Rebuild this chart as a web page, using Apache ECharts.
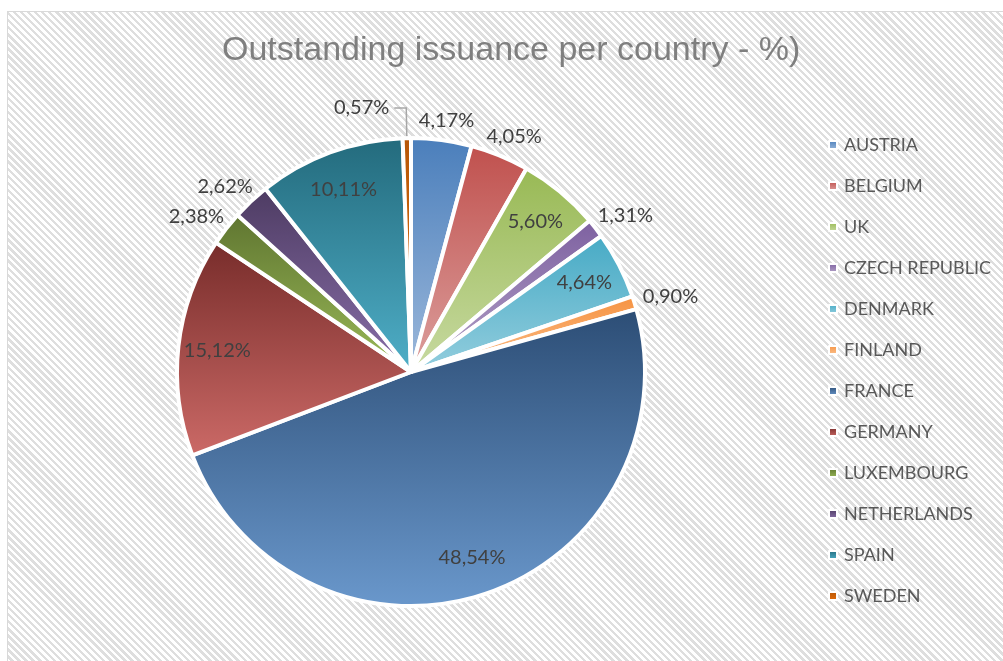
<!DOCTYPE html>
<html>
<head>
<meta charset="utf-8">
<script src="https://cdn.jsdelivr.net/npm/echarts@6/dist/echarts.min.js"></script>
<style>
  html, body { margin: 0; padding: 0; background: #ffffff; width: 1003px; height: 661px; overflow: hidden; }
  #frame {
    position: absolute; left: 7px; top: 11px; width: 996px; height: 650px;
    border-left: 1px solid #d9d9d9; border-top: 1px solid #d9d9d9;
    background: repeating-linear-gradient(45deg, #ffffff 0px, #ffffff 2.6px, #dedede 2.6px, #dedede 5px);
  }
  #chart { position: absolute; left: 0; top: 0; width: 996px; height: 650px; }
</style>
</head>
<body>
<div id="frame"><div id="chart"></div></div>
<script>
// ---- data ----
const countries = ['AUSTRIA', 'BELGIUM', 'UK', 'CZECH REPUBLIC', 'DENMARK', 'FINLAND', 'FRANCE', 'GERMANY', 'LUXEMBOURG', 'NETHERLANDS', 'SPAIN', 'SWEDEN'];
const shares = [4.17, 4.05, 5.60, 1.31, 4.64, 0.90, 48.54, 15.12, 2.38, 2.62, 10.11, 0.57];
const insideLabelled = ['UK', 'DENMARK', 'FRANCE', 'GERMANY', 'SPAIN'];
const outsideLabelled = ['AUSTRIA', 'BELGIUM', 'CZECH REPUBLIC', 'FINLAND', 'LUXEMBOURG', 'NETHERLANDS'];
const leaderLabelled = ['SWEDEN'];

// ---- styles ----
const topColors = ['#4A7EBB', '#C0504D', '#98B954', '#7D60A0', '#46AAC5', '#F69240', '#2C4D75', '#772C2A', '#5F7530', '#4D3B62', '#236A7C', '#B65708'];
const bottomColors = ['#9DB9DB', '#DCA09E', '#C8DAA2', '#B4A3C8', '#94CEDE', '#FBC18F', '#6A98CC', '#CC6A67', '#9BBB59', '#8A70AA', '#4FAFC8', '#E46C0A'];
const labelColor = '#404040';
const labelFont = 'Lato';

const fmt = v => v.toFixed(2).replace('.', ',') + '%';
const grad = i => new echarts.graphic.LinearGradient(0, 0, 0, 1, [
  { offset: 0, color: topColors[i] },
  { offset: 1, color: bottomColors[i] }
]);

const center = [403, 360];
const R = 234;
const total = shares.reduce((a, b) => a + b, 0);

const mainData = countries.map((c, i) => {
  const item = { name: c, value: shares[i], itemStyle: { color: grad(i) } };
  if (leaderLabelled.includes(c)) {
    item.label = { show: true, position: 'outside' };
    item.labelLine = { show: true, length: 30, length2: 12, lineStyle: { color: '#a6a6a6', width: 1.5 } };
  }
  return item;
});

const overlayData = (list) => countries.map((c, i) => ({
  name: c, value: shares[i],
  label: { show: list.includes(c) }
}));

const labelStyle = {
  color: labelColor, fontFamily: labelFont, fontSize: 20,
  formatter: p => fmt(p.value)
};

// place "outside end" labels just beyond the rim, along each slice's bisector
function outsideEnd(params) {
  const i = params.dataIndex;
  let cum = 0;
  for (let k = 0; k < i; k++) cum += shares[k];
  const a = (cum + shares[i] / 2) / total * Math.PI * 2;
  const dx = Math.sin(a), dy = -Math.cos(a);
  const w = params.labelRect.width, h = params.labelRect.height;
  const gap = 10;
  return {
    x: center[0] + dx * (R + gap) + dx * w / 2,
    y: center[1] + dy * (R + gap) + dy * h / 2,
    align: 'center', verticalAlign: 'middle'
  };
}

const chart = echarts.init(document.getElementById('chart'), null, { renderer: 'canvas' });
chart.setOption({
  backgroundColor: 'transparent',
  animation: false,
  title: {
    text: 'Outstanding issuance per country - %)',
    left: 209, top: 17,
    textStyle: { fontFamily: 'Liberation Sans', fontSize: 34, fontWeight: 'normal', color: '#7f7f7f' }
  },
  legend: {
    orient: 'vertical',
    left: 815, top: 118,
    data: countries,
    icon: 'rect',
    itemWidth: 8, itemHeight: 8,
    itemGap: 21,
    textStyle: { fontFamily: labelFont, fontSize: 18, color: '#595959', lineHeight: 20, padding: [0, 0, 0, 2] },
    selectedMode: false
  },
  series: [
    {
      type: 'pie',
      center: center,
      radius: [0, R],
      startAngle: 90,
      clockwise: true,
      avoidLabelOverlap: false,
      silent: true,
      itemStyle: { borderColor: '#ffffff', borderWidth: 4 },
      label: Object.assign({ show: false }, labelStyle),
      labelLine: { show: false },
      data: mainData
    },
    {
      type: 'pie',
      center: center,
      radius: [R * 0.64, R],
      startAngle: 90,
      clockwise: true,
      avoidLabelOverlap: false,
      silent: true,
      itemStyle: { color: 'rgba(0,0,0,0)', borderWidth: 0 },
      label: Object.assign({ position: 'inside' }, labelStyle),
      labelLine: { show: false },
      data: overlayData(insideLabelled)
    },
    {
      type: 'pie',
      center: center,
      radius: [R * 1.04, R * 1.22],
      startAngle: 90,
      clockwise: true,
      avoidLabelOverlap: false,
      silent: true,
      itemStyle: { color: 'rgba(0,0,0,0)', borderWidth: 0 },
      label: Object.assign({ position: 'inside' }, labelStyle),
      labelLine: { show: false },
      labelLayout: outsideEnd,
      data: overlayData(outsideLabelled)
    }
  ]
});
</script>
</body>
</html>
